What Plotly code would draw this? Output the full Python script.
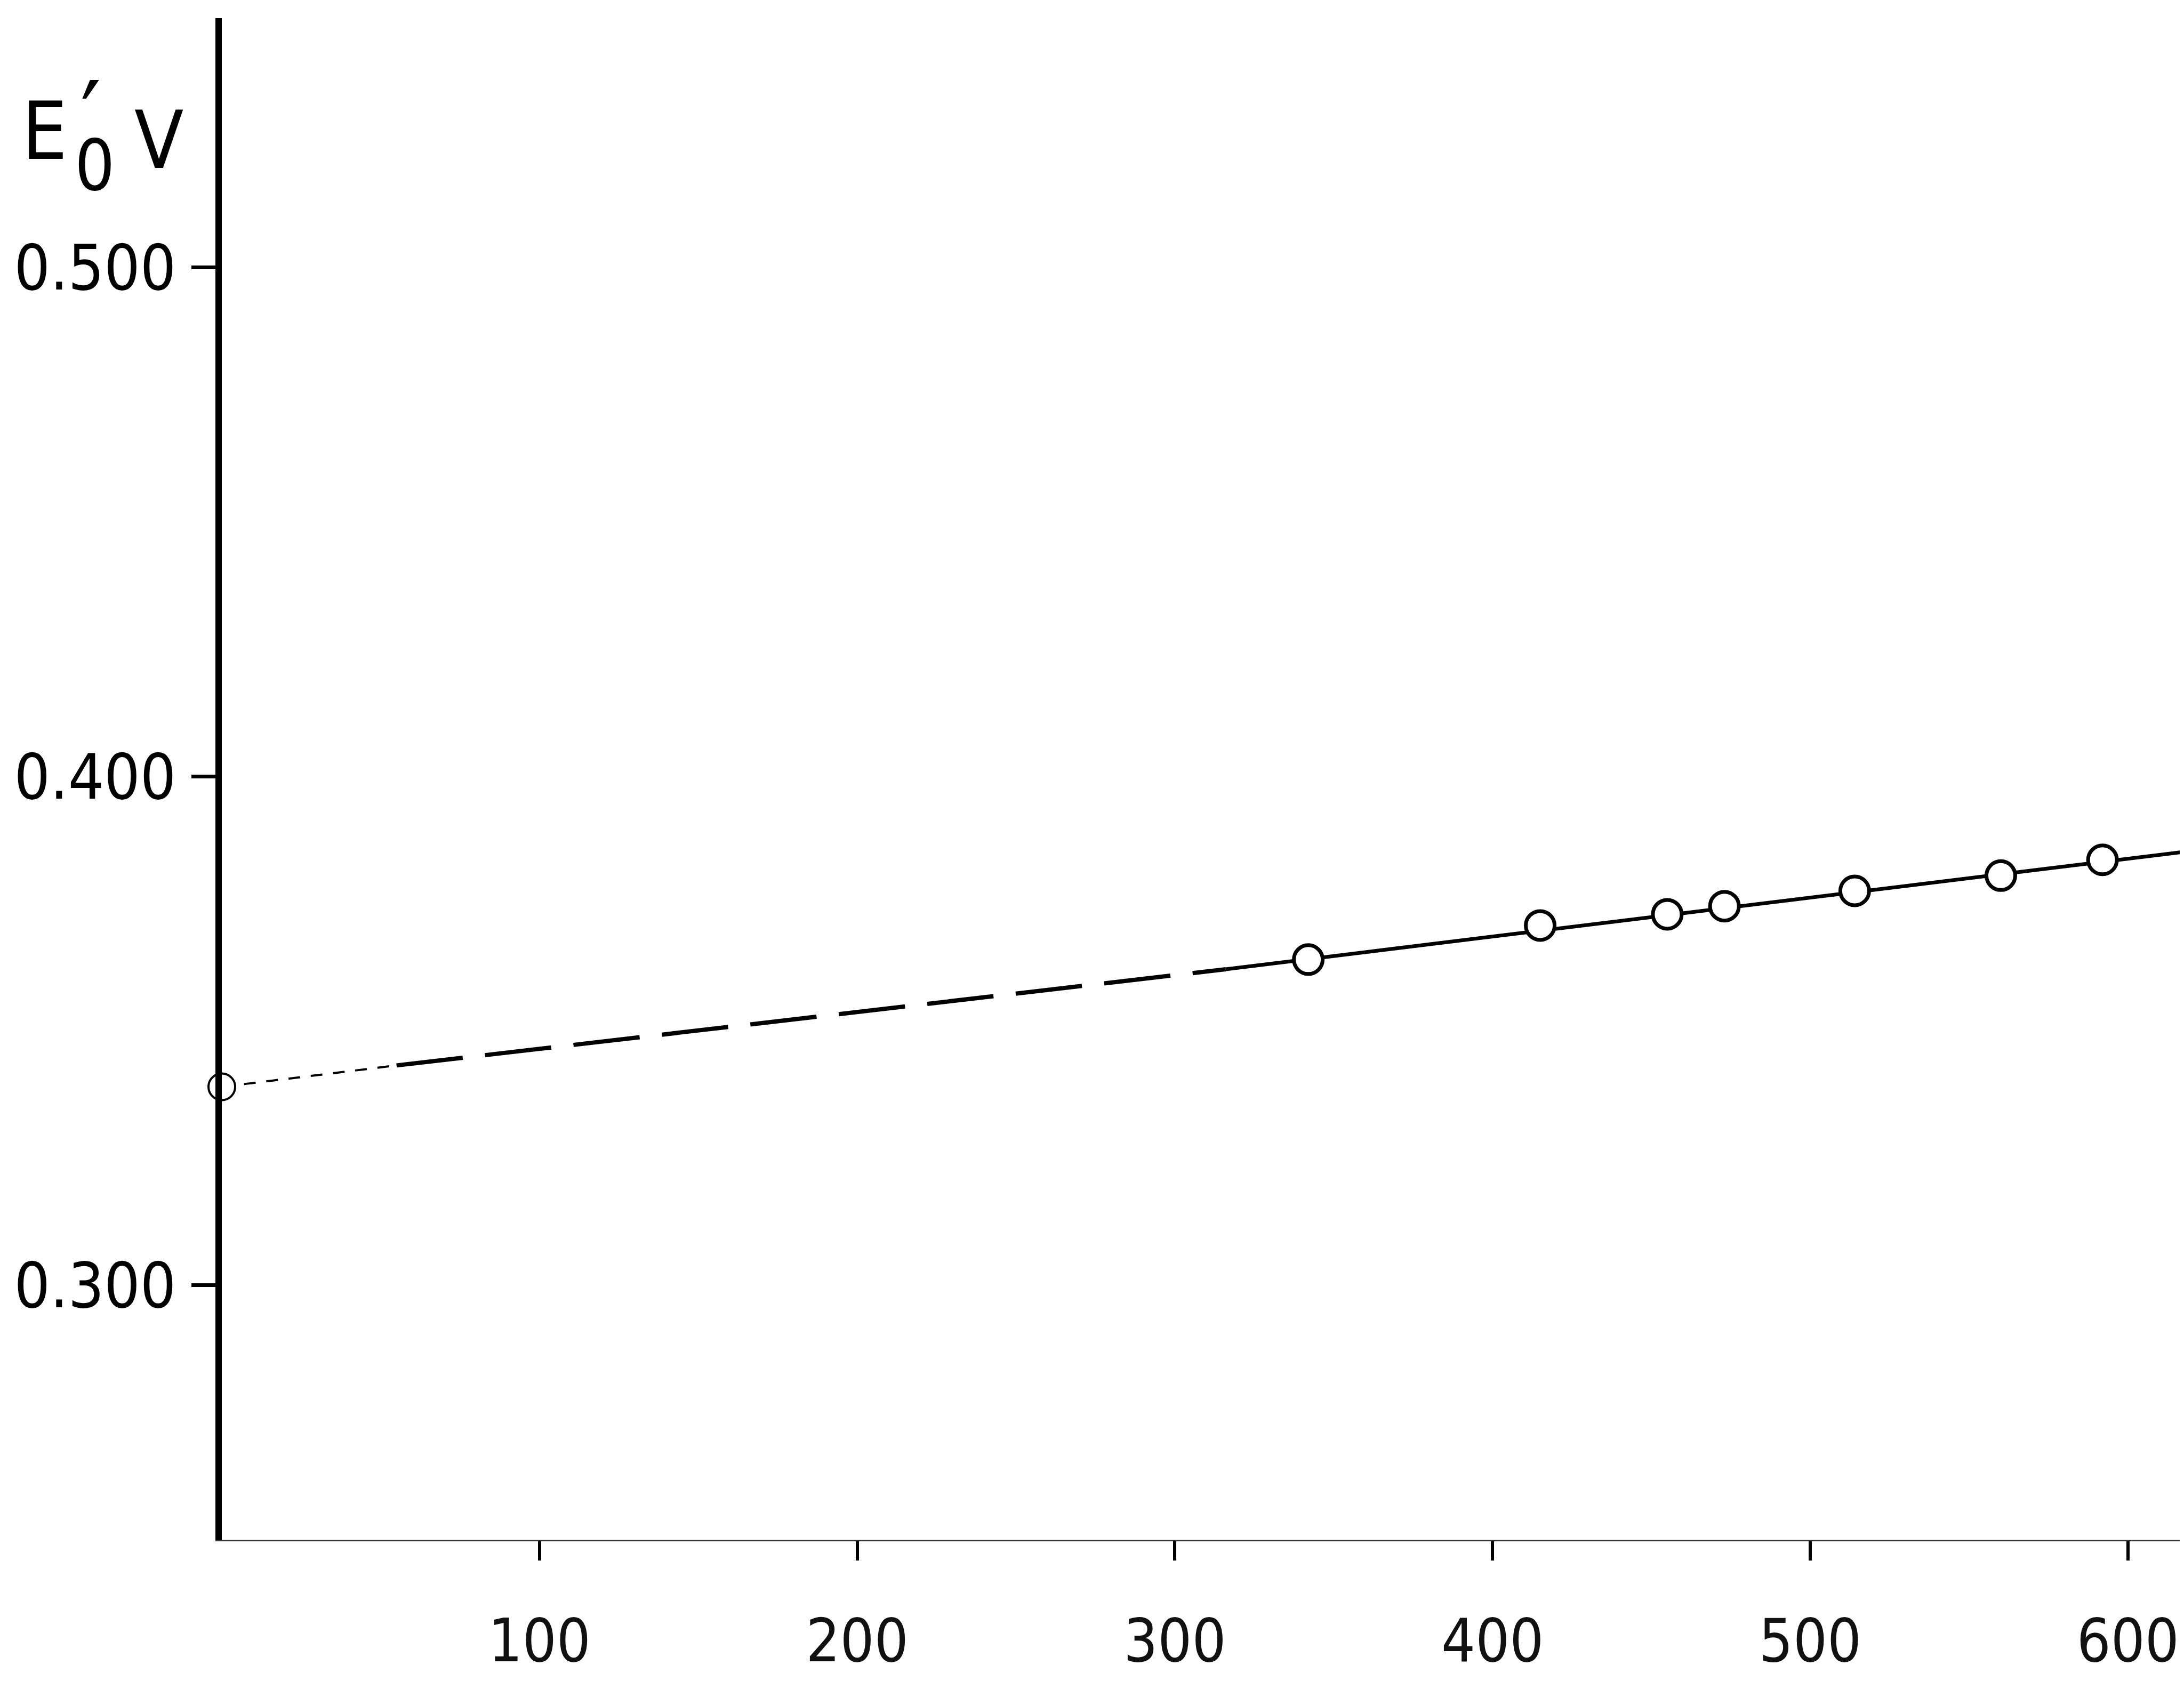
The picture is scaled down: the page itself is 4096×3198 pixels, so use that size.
import plotly.graph_objects as go

# Data
pts_x = [342, 415, 455, 473, 514, 560, 592]
pts_y = [0.3640, 0.3707, 0.3729, 0.3745, 0.3775, 0.3805, 0.3836]

intercept_x = [0]
intercept_y = [0.339]

dotted_x = [0, 55]
dotted_y = [0.339, 0.3432]
dashed_x = [55, 316]
dashed_y = [0.3432, 0.3621]
solid_x = [316, 622]
solid_y = [0.3621, 0.3855]

x_ticks = [100, 200, 300, 400, 500, 600]
x_tick_text = ["100", "200", "300", "400", "500", "600"]
y_ticks = [0.300, 0.400, 0.500]
y_tick_text = ["0.300", "0.400", "0.500"]

FONT = "DejaVu Sans Condensed, DejaVu Sans, sans-serif"

L, T, B = 408, 26, 318

fig = go.Figure()
fig.add_trace(go.Scatter(x=dotted_x, y=dotted_y, mode="lines",
                         line=dict(color="black", width=4, dash="22px,20px"),
                         showlegend=False, cliponaxis=False))
fig.add_trace(go.Scatter(x=dashed_x, y=dashed_y, mode="lines",
                         line=dict(color="black", width=8, dash="125px,42px"),
                         showlegend=False))
fig.add_trace(go.Scatter(x=solid_x, y=solid_y, mode="lines",
                         line=dict(color="black", width=7),
                         showlegend=False, cliponaxis=False))
fig.add_trace(go.Scatter(x=pts_x, y=pts_y, mode="markers",
                         marker=dict(symbol="circle", size=54, color="white",
                                     line=dict(color="black", width=7)),
                         showlegend=False))
fig.add_trace(go.Scatter(x=intercept_x, y=intercept_y, mode="markers",
                         marker=dict(symbol="circle", size=50, color="white",
                                     line=dict(color="black", width=4)),
                         showlegend=False, cliponaxis=False))


def label(text, px, py, size=150):
    return dict(text=text, xref="paper", yref="paper", x=0, y=1,
                xshift=px - L, yshift=-(py - T), xanchor="center", yanchor="middle",
                showarrow=False, font=dict(size=size, family=FONT, color="black"))


fig.update_layout(
    width=4096, height=3198,
    paper_bgcolor="white", plot_bgcolor="white",
    margin=dict(l=L, r=0, t=T, b=B),
    font=dict(family=FONT, color="black"),
    xaxis=dict(range=[0, 619], showgrid=False, zeroline=False, automargin=False,
               showline=True, linecolor="#333", linewidth=3,
               tickmode="array", tickvals=x_ticks, ticktext=x_tick_text,
               ticks="outside", ticklen=36, tickwidth=6, tickcolor="black",
               tickfont=dict(size=112, family=FONT, color="#111"),
               ticklabelstandoff=55),
    yaxis=dict(range=[0.25, 0.549], showgrid=False, zeroline=False, automargin=False,
               showline=True, linecolor="black", linewidth=12,
               tickmode="array", tickvals=y_ticks, ticktext=y_tick_text,
               ticks="outside", ticklen=45, tickwidth=7, tickcolor="black",
               tickfont=dict(size=118, family=FONT, color="black"),
               ticklabelstandoff=5),
    annotations=[
        label("E", 75, 238),
        label("0", 170, 302, size=132),
        label("′", 162, 215, size=190),
        label("V", 290, 255),
    ],
)

fig.write_html("out.html")
